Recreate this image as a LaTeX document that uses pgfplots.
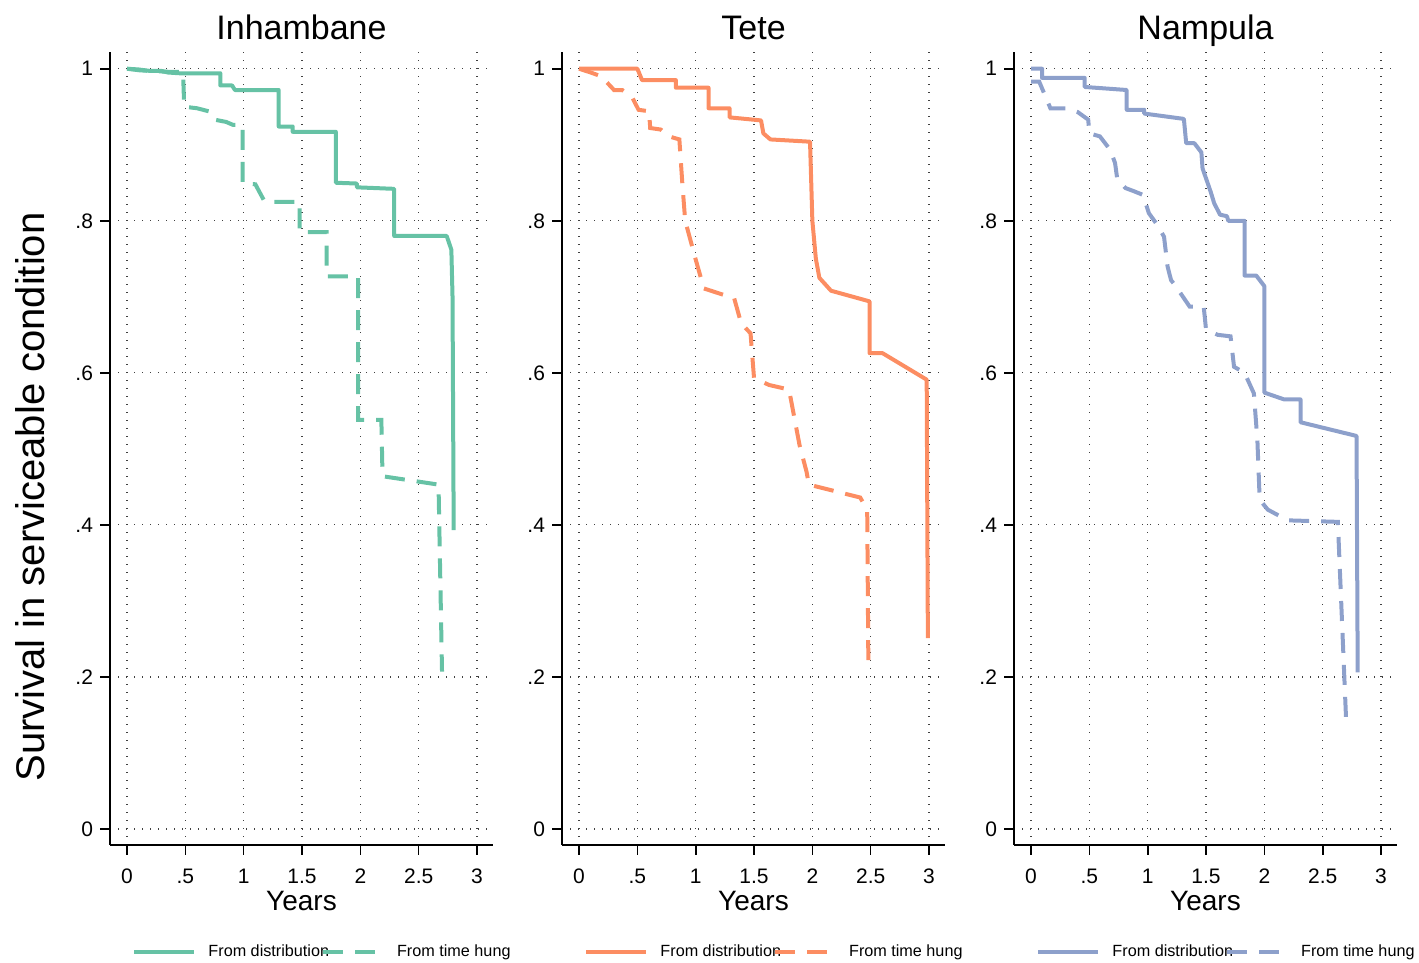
\documentclass[border=0pt]{standalone}
\usepackage{pgfplots}
\pgfplotsset{compat=1.18}
\usepackage{fontspec}
\setmainfont{Liberation Sans}

\definecolor{cgreen}{HTML}{66C2A5}
\definecolor{corange}{HTML}{FC8D62}
\definecolor{cblue}{HTML}{8DA0CB}

\pgfplotsset{
  km/.style={
    scale only axis,
    width=191.5pt, height=396.5pt,
    xmin=-0.146, xmax=3.137,
    ymin=-0.021, ymax=1.022,
    axis x line*=bottom, axis y line*=left,
    axis line style={-, line width=0.8pt},
    tick align=outside,
    major tick length=5pt,
    tick style={black, line width=0.8pt},
    xtick={0,0.5,1,1.5,2,2.5,3},
    xticklabels={0,.5,1,1.5,2,2.5,3},
    ytick={0,0.2,0.4,0.6,0.8,1},
    yticklabels={0,.2,.4,.6,.8,1},
    /pgf/number format/assume math mode=true,
    tick label style={font=\fontsize{10.5}{12}\selectfont},
    xticklabel style={yshift=-3.5pt},
    grid=major,
    grid style={black!75, line width=0.55pt, dash pattern=on 0.55pt off 3.45pt},
    title style={font=\fontsize{17}{20}\selectfont, anchor=base, at={(0.5,1)}, yshift=0pt},
    xlabel={Years},
    xlabel style={font=\fontsize{14}{16}\selectfont, yshift=3pt},
    legend columns=2,
    legend style={draw=none, fill=none, at={(0.5,0)}, anchor=center,
      yshift=-53.5pt, xshift=11pt,
      font=\fontsize{8.1}{10}\selectfont,
      /tikz/every odd column/.append style={column sep=4pt},
      /tikz/every even column/.append style={column sep=-6pt}},
    legend image code/.code={\draw[##1] (0pt,0pt) -- (30pt,0pt);},
    clip=false,
  },
  sol/.style={line width=2pt, line join=round},
  dsh/.style={line width=2pt, dash pattern=on 10pt off 6pt},
}

\begin{document}
\begin{tikzpicture}
\useasboundingbox (-55pt,-59pt) rectangle (654.5pt,422.5pt);

% Inhambane
\begin{axis}[km, at={(0pt,0pt)}, title={Inhambane}]
\addplot[sol, cgreen] coordinates {
(0,1) (0.1,0.999) (0.2,0.997) (0.3,0.997) (0.35,0.995) (0.45,0.994)
(0.80,0.994) (0.80,0.978) (0.90,0.978) (0.925,0.972) (1.30,0.972)
(1.30,0.924) (1.42,0.924) (1.42,0.917) (1.79,0.917) (1.79,0.850)
(1.97,0.849) (1.97,0.844) (2.29,0.842) (2.29,0.780) (2.74,0.780)
(2.78,0.762) (2.79,0.70) (2.80,0.393)};
\addlegendentry{From distribution}
\addplot[dsh, cgreen] coordinates {
(0,1) (0.1,0.998) (0.2,0.997) (0.35,0.996) (0.48,0.996) (0.49,0.950)
(0.60,0.948) (0.70,0.944) (0.75,0.933) (0.85,0.930) (0.91,0.926)
(0.99,0.926) (0.99,0.849) (1.10,0.848) (1.18,0.825) (1.48,0.825)
(1.48,0.785) (1.71,0.785) (1.71,0.727) (1.98,0.727) (1.98,0.538)
(2.18,0.538) (2.19,0.464) (2.67,0.453) (2.70,0.207)};
\addlegendentry{From time hung}
\end{axis}

% Tete
\begin{axis}[km, at={(226pt,0pt)}, title={Tete}]
\addplot[sol, corange] coordinates {
(0,1) (0.50,1) (0.54,0.985) (0.83,0.985) (0.83,0.975) (1.11,0.975)
(1.11,0.948) (1.29,0.948) (1.29,0.936) (1.56,0.932) (1.58,0.915)
(1.64,0.907) (1.98,0.904) (2.00,0.80) (2.03,0.75) (2.06,0.725)
(2.16,0.708) (2.49,0.694) (2.49,0.626) (2.60,0.626) (2.98,0.591)
(2.99,0.251)};
\addlegendentry{From distribution}
\addplot[dsh, corange] coordinates {
(0,1) (0.10,0.995) (0.19,0.990) (0.30,0.972) (0.37,0.972) (0.46,0.961)
(0.51,0.946) (0.60,0.944) (0.61,0.922) (0.70,0.920) (0.77,0.911)
(0.86,0.907) (0.885,0.850) (0.91,0.80) (1.00,0.749) (1.07,0.711)
(1.33,0.698) (1.39,0.665) (1.47,0.652) (1.50,0.593) (1.63,0.584)
(1.80,0.578) (1.89,0.505) (1.95,0.47) (1.97,0.453) (2.41,0.436)
(2.47,0.42) (2.48,0.218)};
\addlegendentry{From time hung}
\end{axis}

% Nampula
\begin{axis}[km, at={(452pt,0pt)}, title={Nampula}]
\addplot[sol, cblue] coordinates {
(0,1) (0.094,1) (0.094,0.988) (0.46,0.988) (0.46,0.976) (0.82,0.972)
(0.82,0.946) (0.97,0.946) (0.97,0.941) (1.31,0.934) (1.33,0.902)
(1.40,0.902) (1.46,0.89) (1.47,0.869) (1.54,0.838) (1.57,0.823)
(1.62,0.808) (1.68,0.806) (1.69,0.800) (1.83,0.800) (1.83,0.728)
(1.93,0.728) (2.00,0.714) (2.00,0.574) (2.17,0.565) (2.31,0.565)
(2.31,0.535) (2.79,0.517) (2.80,0.206)};
\addlegendentry{From distribution}
\addplot[dsh, cblue] coordinates {
(0,0.983) (0.07,0.983) (0.166,0.948) (0.31,0.948) (0.40,0.943)
(0.49,0.933) (0.50,0.915) (0.59,0.911) (0.68,0.893) (0.72,0.876)
(0.74,0.854) (0.81,0.843) (0.88,0.839) (0.96,0.834) (1.01,0.810)
(1.08,0.795) (1.14,0.779) (1.17,0.740) (1.20,0.722) (1.24,0.714)
(1.36,0.687) (1.48,0.687) (1.50,0.657) (1.60,0.650) (1.71,0.648)
(1.74,0.608) (1.83,0.600) (1.91,0.573) (1.94,0.512) (1.96,0.433)
(2.03,0.420) (2.20,0.406) (2.63,0.404) (2.70,0.146)};
\addlegendentry{From time hung}
\end{axis}

\node[rotate=90, font=\fontsize{20}{24}\selectfont] at (-40pt,174pt)
  {Survival in serviceable condition};
\end{tikzpicture}
\end{document}
